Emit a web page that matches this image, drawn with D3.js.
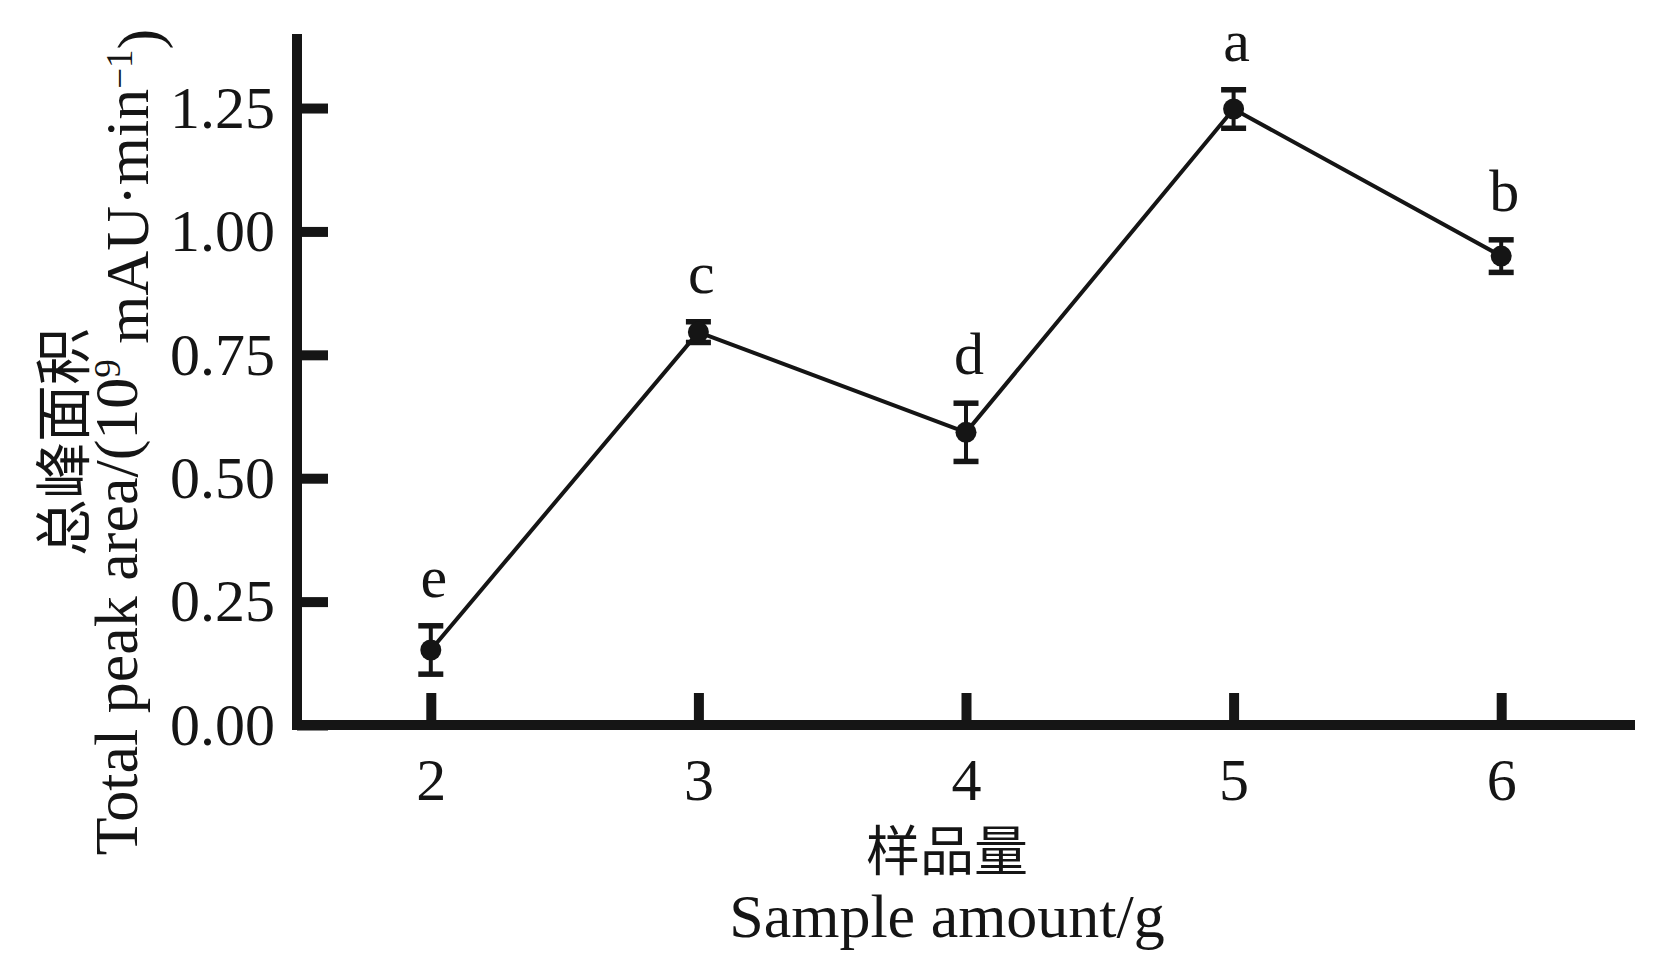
<!DOCTYPE html>
<html><head><meta charset="utf-8">
<script src="https://cdn.jsdelivr.net/npm/d3@7"></script>
<style>
html,body{margin:0;padding:0;background:#fff;}
svg{display:block;}
</style></head>
<body>
<svg id="chart" width="1654" height="954"></svg>
<script>
const sampleAmounts = [2, 3, 4, 5, 6];
const peakArea = [0.152, 0.796, 0.593, 1.248, 0.950];
const peakErr = [0.049, 0.021, 0.059, 0.039, 0.033];
const sigLetters = ["e", "c", "d", "a", "b"];
const yTicks = [0, 0.25, 0.5, 0.75, 1.0, 1.25];
const xTicks = [2, 3, 4, 5, 6];

const ink = "#151515";
const serif = "'Liberation Serif','Times New Roman',serif";
const cjk = "'Noto Sans CJK SC','Noto Sans CJK JP',sans-serif";

const svg = d3.select("#chart");
svg.append("rect").attr("width",1654).attr("height",954).attr("fill","#fff");

const x = d3.scaleLinear().domain([1.5, 6.5]).range([297, 1635]);
const y = d3.scaleLinear().domain([0, 1.4]).range([725, 34]);

const yAxis = d3.axisLeft(y).tickValues(yTicks).tickFormat(d3.format(".2f"))
  .tickSizeInner(-31).tickSizeOuter(0).tickPadding(22);
const xAxis = d3.axisBottom(x).tickValues(xTicks).tickFormat(d3.format("d"))
  .tickSizeInner(-32).tickSizeOuter(0).tickPadding(32);

const gy = svg.append("g").attr("transform", `translate(${x(1.5)},0)`).call(yAxis);
const gx = svg.append("g").attr("transform", `translate(0,${y(0)})`).call(xAxis);
[gy, gx].forEach(g => {
  g.select(".domain").remove();
  g.selectAll(".tick line").attr("stroke", ink).attr("stroke-width", 10);
  g.selectAll(".tick text").attr("fill", ink).style("font-family", serif).style("font-size", "60px");
});

svg.append("line").attr("x1", x(1.5)).attr("x2", x(1.5)).attr("y1", y(0) + 5).attr("y2", y(1.4))
  .attr("stroke", ink).attr("stroke-width", 10);
svg.append("line").attr("x1", x(1.5) - 5).attr("x2", x(6.5)).attr("y1", y(0)).attr("y2", y(0))
  .attr("stroke", ink).attr("stroke-width", 10);

const data = sampleAmounts.map((s, i) => ({s, v: peakArea[i], e: peakErr[i], l: sigLetters[i]}));

svg.append("path").datum(data)
  .attr("d", d3.line().x(d => x(d.s)).y(d => y(d.v)))
  .attr("fill", "none").attr("stroke", ink).attr("stroke-width", 4);

const eb = svg.append("g").selectAll("g").data(data).join("g");
eb.append("line").attr("x1", d => x(d.s)).attr("x2", d => x(d.s))
  .attr("y1", d => y(d.v - d.e)).attr("y2", d => y(d.v + d.e))
  .attr("stroke", ink).attr("stroke-width", 4);
eb.selectAll(".cap").data(d => [[d.s, d.v - d.e], [d.s, d.v + d.e]]).join("line")
  .attr("x1", d => x(d[0]) - 12.5).attr("x2", d => x(d[0]) + 12.5)
  .attr("y1", d => y(d[1])).attr("y2", d => y(d[1]))
  .attr("stroke", ink).attr("stroke-width", 5.5);

svg.append("g").selectAll("circle").data(data).join("circle")
  .attr("cx", d => x(d.s)).attr("cy", d => y(d.v)).attr("r", 10.5).attr("fill", ink);

svg.append("g").selectAll("text").data(data).join("text")
  .attr("x", d => x(d.s) + 3).attr("y", d => y(d.v + d.e) - 29)
  .attr("text-anchor", "middle").attr("fill", ink)
  .style("font-family", serif).style("font-size", "60px").text(d => d.l);

svg.append("text").attr("x", 947).attr("y", 871).attr("text-anchor", "middle").attr("fill", ink)
  .style("font-family", cjk).style("font-size", "54px").style("font-weight", 400).text("样品量");
svg.append("text").attr("x", 947).attr("y", 937).attr("text-anchor", "middle").attr("fill", ink)
  .style("font-family", serif).style("font-size", "62px").text("Sample amount/g");

svg.append("text").attr("transform", "translate(84,442) rotate(-90)").attr("text-anchor", "middle")
  .attr("fill", ink).style("font-family", cjk).style("font-size", "57px").style("font-weight", 400)
  .text("总峰面积");
const t2 = svg.append("text").attr("transform", "translate(137,442) rotate(-90)").attr("text-anchor", "middle")
  .attr("fill", ink).style("font-family", serif).style("font-size", "62px");
t2.append("tspan").text("Total peak area/(10");
t2.append("tspan").attr("dy", "-0.45em").style("font-size", "37px").text("9");
t2.append("tspan").attr("dy", "0.45em").text(" mAU·min");
t2.append("tspan").attr("dy", "-0.45em").style("font-size", "37px").text("−1");
t2.append("tspan").attr("dy", "0.45em").text(")");
</script>
</body></html>
